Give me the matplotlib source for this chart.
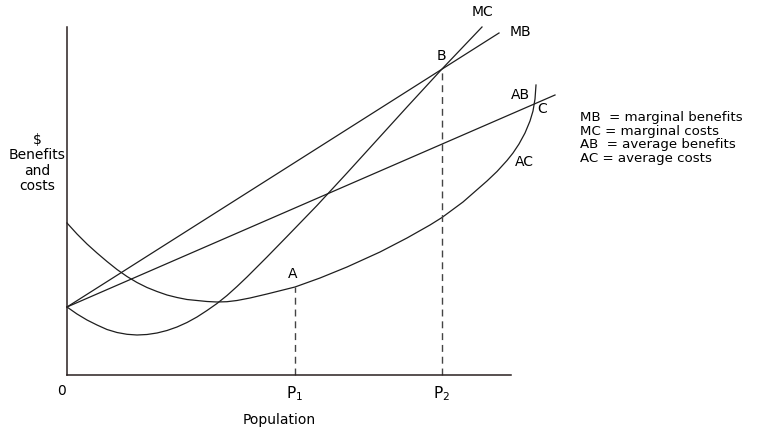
"""Urban size diagram: marginal / average benefits and costs against population."""

import matplotlib
matplotlib.use("Agg")

import matplotlib.pyplot as plt

# intercept shared by MB, AB and MC
y0 = 6.8

# straight lines: MB and AB (end points)
mb_x = [0.0, 43.2]
mb_y = [y0, 34.2]
ab_x = [0.0, 48.8]
ab_y = [y0, 28.0]

# marginal cost curve
mc_x = [0, 1, 2, 3, 4, 5, 6, 7, 8, 9, 10, 11, 12, 13, 14, 15, 16, 17, 18, 19, 20,
        22, 25, 28, 31, 34, 37.5, 41.5]
mc_y = [6.8, 6.1, 5.5, 5.0, 4.55, 4.25, 4.07, 4.0, 4.05, 4.2, 4.45, 4.8, 5.25,
        5.8, 6.45, 7.15, 7.95, 8.85, 9.8, 10.8, 11.8, 13.85, 16.95, 20.2, 23.5,
        26.8, 30.6, 34.8]

# average cost curve
ac_x = [0, 1, 2, 3, 4, 5, 6, 7, 8, 9, 10, 11, 12, 13, 14, 15, 16, 17, 18.3, 20,
        22.8, 25.3, 28, 31.3, 34, 36.3, 37.5, 39.6, 42, 43, 44, 44.6, 45.2, 45.8,
        46.3, 46.6, 46.8, 46.9]
ac_y = [15.2, 14.1, 13.1, 12.2, 11.35, 10.55, 9.85, 9.25, 8.75, 8.35, 8.0, 7.75,
        7.55, 7.45, 7.35, 7.3, 7.33, 7.45, 7.7, 8.1, 8.8, 9.7, 10.8, 12.3, 13.7,
        15.0, 15.75, 17.3, 19.4, 20.35, 21.45, 22.2, 23.1, 24.2, 25.4, 26.4,
        27.6, 29.0]

# P1 (point A on AC) and P2 (point B where MC = MB)
p1_x, p1_y = 22.8, 8.8
p2_x, p2_y = 37.5, 30.6

legend_lines = [
    "MB  = marginal benefits",
    "MC = marginal costs",
    "AB  = average benefits",
    "AC = average costs",
]

ink = "#1e1e1e"

fig = plt.figure(figsize=(7.68, 4.30), dpi=100)
ax = fig.add_axes([67 / 768, 55 / 430, 444 / 768, 348 / 430])
ax.set_xlim(0, 44.4)
ax.set_ylim(0, 34.8)
for side in ("top", "right"):
    ax.spines[side].set_visible(False)
for side in ("left", "bottom"):
    ax.spines[side].set_color("#2a2020")
    ax.spines[side].set_linewidth(1.1)
ax.set_xticks([])
ax.set_yticks([])

kw = dict(color=ink, lw=0.9, clip_on=False)
ax.plot(mb_x, mb_y, **kw)
ax.plot(ab_x, ab_y, **kw)
ax.plot(mc_x, mc_y, **kw)
ax.plot(ac_x, ac_y, **kw)

dash = dict(color="#444444", lw=1.0, linestyle=(0, (5, 3.5)), clip_on=False)
ax.plot([p1_x, p1_x], [0, p1_y], **dash)
ax.plot([p2_x, p2_x], [0, p2_y], **dash)

fs = 10
ax.text(41.5, 35.6, "MC", fontsize=fs, ha="center", va="bottom")
ax.text(44.3, 34.3, "MB", fontsize=fs, ha="left", va="center")
ax.text(37.4, 31.2, "B", fontsize=fs, ha="center", va="bottom")
ax.text(45.3, 28.0, "AB", fontsize=fs, ha="center", va="center")
ax.text(47.5, 26.6, "C", fontsize=fs, ha="center", va="center")
ax.text(45.7, 21.3, "AC", fontsize=fs, ha="center", va="center")
ax.text(p1_x - 0.2, 9.4, "A", fontsize=fs, ha="center", va="bottom")

ax.text(-0.5, -1.6, "0", fontsize=fs, ha="center", va="center")
ax.text(p1_x, -1.9, r"$\mathregular{P_1}$", fontsize=fs + 1, ha="center", va="center")
ax.text(p2_x, -1.9, r"$\mathregular{P_2}$", fontsize=fs + 1, ha="center", va="center")
ax.text(21.2, -4.5, "Population", fontsize=fs, ha="center", va="center")

ax.text(-3.0, 21.2, "\\$\nBenefits\nand\ncosts", fontsize=fs,
        ha="center", va="center", linespacing=1.15)

for i, line in enumerate(legend_lines):
    fig.text(580 / 768, 1 - (118 + 13.5 * i) / 430, line, fontsize=9.6,
             ha="left", va="center")

fig.savefig("out.png", dpi=100)
